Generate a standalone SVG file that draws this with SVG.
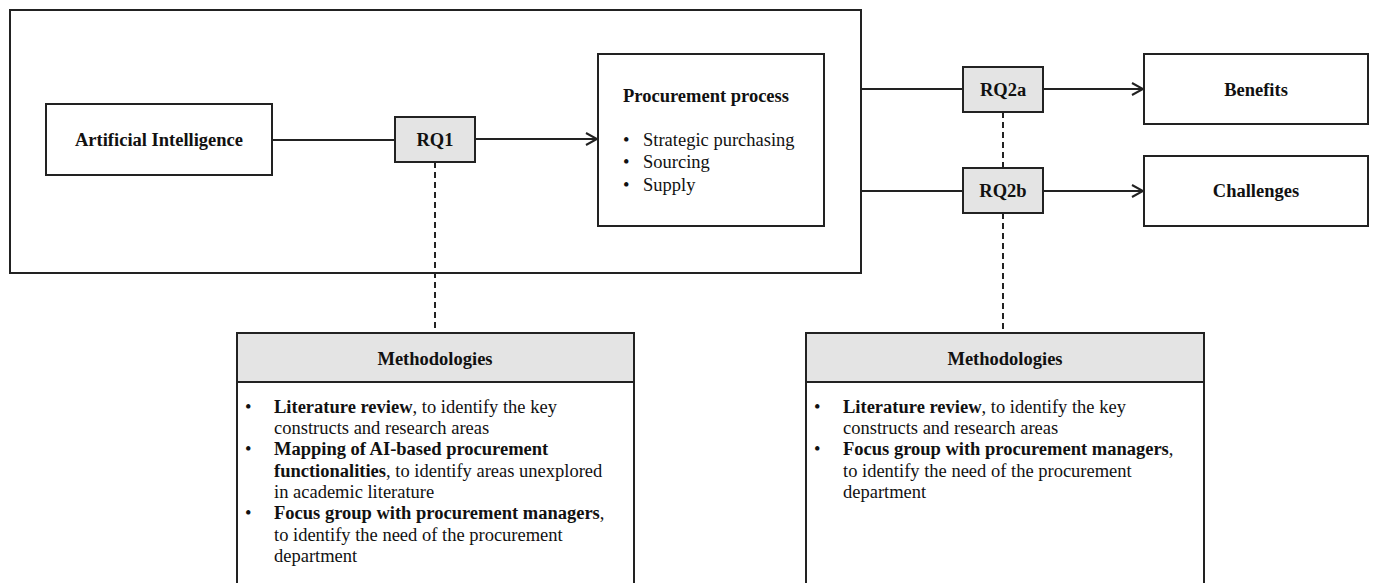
<svg xmlns="http://www.w3.org/2000/svg" width="1380" height="583" viewBox="0 0 1380 583">
<defs>
<style>
.box{fill:#fff;stroke:#222;stroke-width:2}
.rq{fill:#e4e4e4;stroke:#222;stroke-width:2}
.ln{stroke:#222;stroke-width:2;fill:none}
.dash{stroke:#222;stroke-width:2;fill:none;stroke-dasharray:6,4}
text{font-family:"Liberation Serif","Times New Roman",serif;fill:#111}
.b{font-weight:bold}
.t17{font-size:18.5px}
</style>
<marker id="arr" markerWidth="14" markerHeight="14" refX="12" refY="7" orient="auto" markerUnits="userSpaceOnUse">
<path d="M1,1 L12,7 L1,13" fill="none" stroke="#222" stroke-width="2"/>
</marker>
</defs>
<rect width="1380" height="583" fill="#fff"/>
<g id="frame"><rect x="10" y="10" width="851" height="263" class="box" fill="none"/></g>
<g id="connectors">
<line x1="272" y1="140" x2="395" y2="140" class="ln"/>
<line x1="475" y1="139" x2="597" y2="139" class="ln" marker-end="url(#arr)"/>
<line x1="861" y1="89" x2="963" y2="89" class="ln"/>
<line x1="1043" y1="89" x2="1143" y2="89" class="ln" marker-end="url(#arr)"/>
<line x1="861" y1="191" x2="963" y2="191" class="ln"/>
<line x1="1043" y1="191" x2="1143" y2="191" class="ln" marker-end="url(#arr)"/>
<line x1="435" y1="162" x2="435" y2="333" class="dash"/>
<line x1="1003" y1="112" x2="1003" y2="168" class="dash"/>
<line x1="1003" y1="213" x2="1003" y2="333" class="dash"/>
</g>
<g id="ai"><rect x="46" y="104" width="226" height="71" class="box"/><text x="159" y="146" text-anchor="middle" class="b t17">Artificial Intelligence</text></g>
<g id="rq1"><rect x="395" y="117" width="80" height="45" class="rq"/><text x="435" y="146" text-anchor="middle" class="b t17">RQ1</text></g>
<g id="procurement"><rect x="598" y="54" width="226" height="172" class="box"/>
<text x="623" y="102" class="b t17">Procurement process</text>
<text class="t17"><tspan x="623" y="146">•</tspan><tspan x="643" y="146">Strategic purchasing</tspan><tspan x="623" y="168">•</tspan><tspan x="643" y="168">Sourcing</tspan><tspan x="623" y="191">•</tspan><tspan x="643" y="191">Supply</tspan></text>
</g>
<g id="rq2a"><rect x="963" y="67" width="80" height="45" class="rq"/><text x="1003" y="96" text-anchor="middle" class="b t17">RQ2a</text></g>
<g id="rq2b"><rect x="963" y="168" width="80" height="45" class="rq"/><text x="1003" y="197" text-anchor="middle" class="b t17">RQ2b</text></g>
<g id="benefits"><rect x="1144" y="54" width="224" height="70" class="box"/><text x="1256" y="96" text-anchor="middle" class="b t17">Benefits</text></g>
<g id="challenges"><rect x="1144" y="156" width="224" height="70" class="box"/><text x="1256" y="197" text-anchor="middle" class="b t17">Challenges</text></g>
<g id="meth1">
<rect x="237" y="333" width="397" height="260" class="box"/>
<rect x="237" y="333" width="397" height="49" class="rq"/>
<text x="435" y="365" text-anchor="middle" class="b t17">Methodologies</text>
<text class="t17">
<tspan x="245" y="413">•</tspan><tspan x="274" y="413" class="b">Literature review</tspan><tspan>, to identify the key</tspan>
<tspan x="274" y="434">constructs and research areas</tspan>
<tspan x="245" y="455">•</tspan><tspan x="274" y="455" class="b">Mapping of AI-based procurement</tspan>
<tspan x="274" y="477" class="b">functionalities</tspan><tspan>, to identify areas unexplored</tspan>
<tspan x="274" y="498">in academic literature</tspan>
<tspan x="245" y="519">•</tspan><tspan x="274" y="519" class="b">Focus group with procurement managers</tspan><tspan>,</tspan>
<tspan x="274" y="541">to identify the need of the procurement</tspan>
<tspan x="274" y="562">department</tspan>
</text>
</g>
<g id="meth2">
<rect x="806" y="333" width="398" height="260" class="box"/>
<rect x="806" y="333" width="398" height="49" class="rq"/>
<text x="1005" y="365" text-anchor="middle" class="b t17">Methodologies</text>
<text class="t17">
<tspan x="814" y="413">•</tspan><tspan x="843" y="413" class="b">Literature review</tspan><tspan>, to identify the key</tspan>
<tspan x="843" y="434">constructs and research areas</tspan>
<tspan x="814" y="455">•</tspan><tspan x="843" y="455" class="b">Focus group with procurement managers</tspan><tspan>,</tspan>
<tspan x="843" y="477">to identify the need of the procurement</tspan>
<tspan x="843" y="498">department</tspan>
</text>
</g>
</svg>
